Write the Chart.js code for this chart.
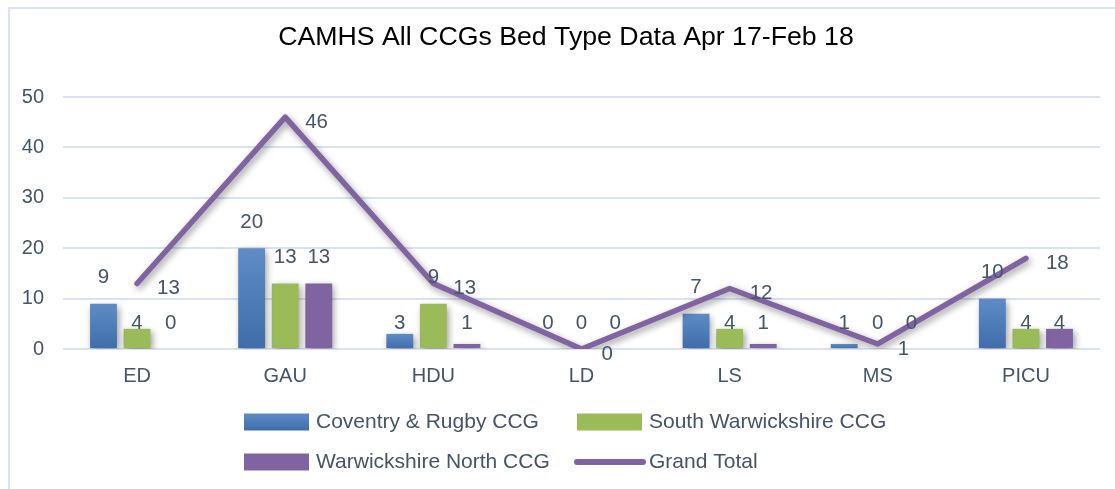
<!DOCTYPE html>
<html>
<head>
<meta charset="utf-8">
<title>CAMHS All CCGs Bed Type Data</title>
<script src="https://cdn.jsdelivr.net/npm/chart.js@4/dist/chart.umd.min.js"></script>
<style>
    html, body { margin: 0; padding: 0; background: #fff; }
    #wrap { width: 1115px; height: 489px; position: relative; }
</style>
</head>
<body>
<div id="wrap"><canvas id="bedChart" width="1115" height="489"></canvas></div>
<script>
// chart data
const chartTitle = 'CAMHS All CCGs Bed Type Data Apr 17-Feb 18';
const bedTypes = ['ED', 'GAU', 'HDU', 'LD', 'LS', 'MS', 'PICU'];
const coventryRugby = [9, 20, 3, 0, 7, 1, 10];
const southWarks = [4, 13, 9, 0, 4, 0, 4];
const warksNorth = [0, 13, 1, 0, 1, 0, 4];
const grandTotal = [13, 46, 13, 0, 12, 1, 18];
const yTicks = [0, 10, 20, 30, 40, 50];

const FONT = "'Liberation Sans', Arial, sans-serif";
const TEXT = '#44546a';
const GRID = '#d9e2f3';
const PURPLE = '#8064a2';

// vertical gradient for each blue bar (lighter at the top)
function blueFill(context) {
    const chart = context.chart;
    const y = chart.scales.y;
    if (!y || context.raw === undefined) return '#4f81bd';
    const top = y.getPixelForValue(context.raw);
    const base = y.getPixelForValue(0);
    if (!isFinite(top) || !isFinite(base) || base - top < 1) return '#4f81bd';
    const g = chart.ctx.createLinearGradient(0, top, 0, base);
    g.addColorStop(0, '#5f8cc7');
    g.addColorStop(1, '#3e6da9');
    return g;
}

// frame, title, soft shadows, value labels and the two-column legend
const excelLook = {
    id: 'excelLook',
    beforeDraw(chart) {
        const ctx = chart.ctx;
        ctx.save();
        ctx.strokeStyle = '#d9e3f3';
        ctx.lineWidth = 2;
        ctx.strokeRect(9, 8, 1300, 700);
        ctx.fillStyle = '#000';
        ctx.font = '26.7px ' + FONT;
        ctx.textAlign = 'center';
        ctx.textBaseline = 'middle';
        ctx.fillText(chartTitle, 566, 38);
        ctx.restore();
    },
    beforeDatasetDraw(chart) {
        const ctx = chart.ctx;
        ctx.save();
        ctx.shadowColor = 'rgba(0,0,0,0.4)';
        ctx.shadowBlur = 7;
        ctx.shadowOffsetX = 2;
        ctx.shadowOffsetY = 3;
    },
    afterDatasetDraw(chart) {
        chart.ctx.restore();
    },
    afterDatasetsDraw(chart) {
        const ctx = chart.ctx;
        const y = chart.scales.y;
        ctx.save();
        ctx.font = '20.5px ' + FONT;
        ctx.fillStyle = TEXT;
        ctx.textBaseline = 'middle';
        chart.data.datasets.forEach((ds, di) => {
            const meta = chart.getDatasetMeta(di);
            meta.data.forEach((el, i) => {
                const v = ds.data[i];
                if (ds.type === 'line') {
                    ctx.textAlign = 'left';
                    ctx.fillText(String(v), el.x + 20, el.y + 5);
                } else {
                    // short bars get their label at a common height
                    const lift = v < 5 ? 0 : v;
                    ctx.textAlign = 'center';
                    ctx.fillText(String(v), el.x, y.getPixelForValue(lift) - 26);
                }
            });
        });
        ctx.restore();
    },
    afterDraw(chart) {
        const ctx = chart.ctx;
        const cols = [244, 577];
        const rows = [422, 462];
        const order = [1, 2, 3, 0];
        ctx.save();
        ctx.font = '21px ' + FONT;
        ctx.textBaseline = 'middle';
        ctx.textAlign = 'left';
        order.forEach((di, k) => {
            const ds = chart.data.datasets[di];
            const x = cols[k % 2];
            const yy = rows[Math.floor(k / 2)];
            if (ds.type === 'line') {
                ctx.strokeStyle = ds.borderColor;
                ctx.lineWidth = 6;
                ctx.lineCap = 'round';
                ctx.beginPath();
                ctx.moveTo(x, yy);
                ctx.lineTo(x + 66, yy);
                ctx.stroke();
            } else {
                if (di === 1) {
                    const g = ctx.createLinearGradient(0, yy - 8.5, 0, yy + 8.5);
                    g.addColorStop(0, '#5f8cc7');
                    g.addColorStop(1, '#3e6da9');
                    ctx.fillStyle = g;
                } else {
                    ctx.fillStyle = ds.backgroundColor;
                }
                ctx.fillRect(x, yy - 8.5, 65, 17);
            }
            ctx.fillStyle = TEXT;
            ctx.fillText(ds.label, x + 72, yy);
        });
        ctx.restore();
    }
};

const ctx = document.getElementById('bedChart').getContext('2d');
new Chart(ctx, {
    data: {
        labels: bedTypes,
        datasets: [
            {
                type: 'line',
                label: 'Grand Total',
                data: grandTotal,
                borderColor: PURPLE,
                backgroundColor: PURPLE,
                borderWidth: 5.5,
                borderCapStyle: 'round',
                borderJoinStyle: 'round',
                pointRadius: 0,
                tension: 0,
                order: 0
            },
            {
                type: 'bar',
                label: 'Coventry & Rugby CCG',
                data: coventryRugby,
                backgroundColor: blueFill,
                order: 1
            },
            {
                type: 'bar',
                label: 'South Warwickshire CCG',
                data: southWarks,
                backgroundColor: '#9bbb59',
                order: 1
            },
            {
                type: 'bar',
                label: 'Warwickshire North CCG',
                data: warksNorth,
                backgroundColor: PURPLE,
                order: 1
            }
        ]
    },
    options: {
        responsive: false,
        animation: false,
        layout: { padding: { left: 0, top: 97, right: 15, bottom: 90 } },
        datasets: {
            bar: { categoryPercentage: 0.68, barPercentage: 0.8 }
        },
        scales: {
            x: {
                grid: { display: false, drawTicks: false },
                border: { display: false },
                ticks: { color: TEXT, font: { family: FONT, size: 20 }, padding: 15 },
                afterFit: (s) => { s.height = 50; }
            },
            y: {
                min: 0,
                max: 50,
                afterBuildTicks: (s) => { s.ticks = yTicks.map(v => ({ value: v })); },
                grid: { color: GRID, lineWidth: 2, drawTicks: false },
                border: { display: false },
                ticks: { color: TEXT, font: { family: FONT, size: 20 }, padding: 19 },
                afterFit: (s) => { s.width = 63; }
            }
        },
        plugins: {
            legend: { display: false },
            title: { display: false },
            tooltip: { enabled: false }
        }
    },
    plugins: [excelLook]
});
</script>
</body>
</html>
